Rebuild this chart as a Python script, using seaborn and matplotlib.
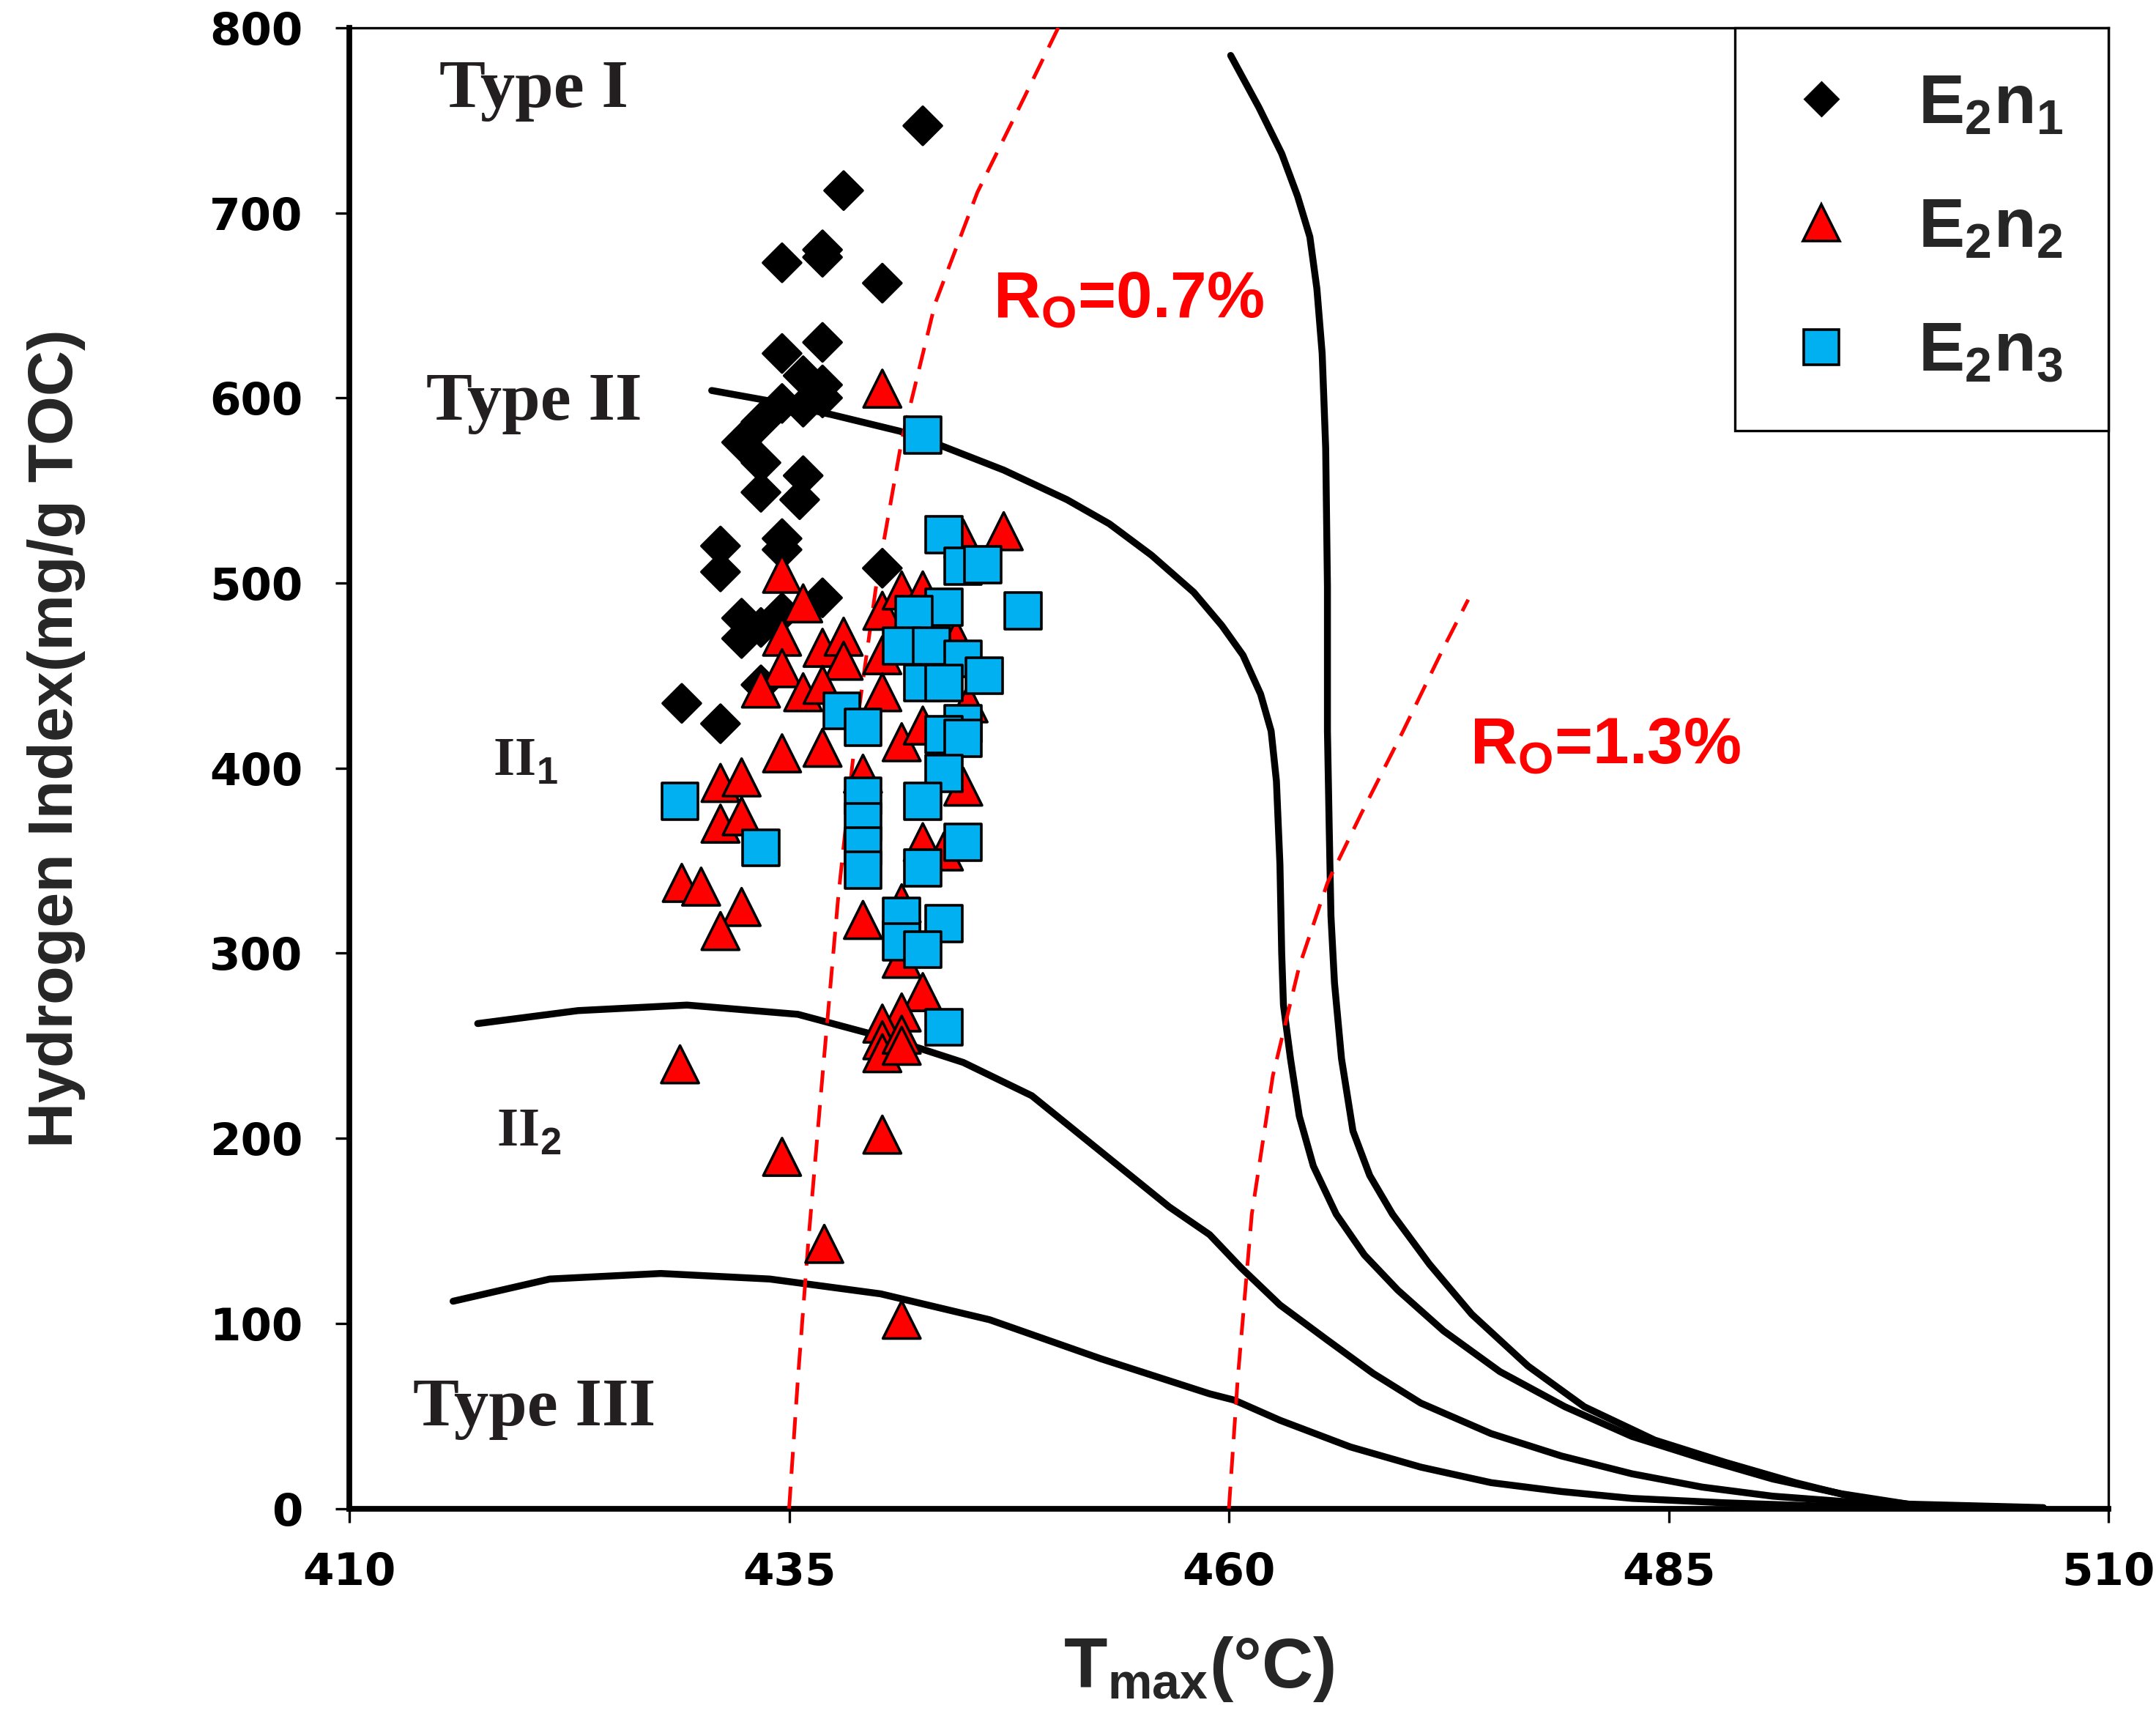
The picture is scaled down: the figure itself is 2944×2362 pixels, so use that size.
import pandas as pd
import seaborn as sns
import matplotlib.pyplot as plt
from matplotlib.lines import Line2D

sns.set_style('ticks')
plt.rcParams['font.family'] = ['Liberation Sans', 'DejaVu Sans']
plt.rcParams['mathtext.fontset'] = 'custom'
plt.rcParams['mathtext.rm'] = 'Liberation Sans'
plt.rcParams['mathtext.bf'] = 'Liberation Sans:bold'

# E2n1 samples (black diamonds)
n1_tmax = [442.6, 438.1, 436.9, 436.9, 434.6, 440.3, 436.9, 434.6, 435.8, 436.9,
           434.6, 435.8, 436.9, 433.4, 432.3, 433.4, 435.8, 433.4, 435.6, 434.6,
           434.6, 431.1, 431.1, 436.9, 432.3, 432.3, 433.4, 434.6, 440.3, 428.9,
           431.1, 433.4]
n1_hi = [747, 712, 680, 676, 673, 662, 630, 624, 612, 607,
         597, 595, 600, 587, 576, 565, 558, 549, 545, 524,
         518, 520, 506, 492, 481, 470, 476, 484, 508, 435,
         424, 445]

# E2n2 samples (red triangles)
n2_tmax = [440.3, 434.6, 435.8, 434.6, 436.9, 438.1, 438.1, 434.6, 433.4, 435.8,
           436.9, 434.6, 436.9, 431.1, 432.3, 431.1, 432.3, 439.2, 440.3, 441.4,
           442.6, 440.3, 440.3, 441.4, 442.6, 447.2, 444.9, 444.9, 442.6, 443.8,
           444.5, 445.2, 428.9, 430.0, 432.3, 431.1, 439.2, 441.4, 441.4, 442.6,
           441.4, 440.3, 440.3, 440.3, 441.4, 441.4, 428.8, 434.6, 440.3, 437.0,
           441.4]
n2_hi = [605, 505, 489, 471, 465, 471, 458, 454, 443, 441,
         445, 408, 411, 392, 395, 370, 374, 397, 485, 496,
         496, 461, 441, 414, 423, 528, 524, 390, 360, 355,
         470, 435, 338, 336, 325, 312, 318, 327, 297, 279,
         268, 262, 253, 246, 256, 250, 240, 190, 202, 143,
         102]

# E2n3 samples (blue squares)
n3_tmax = [442.6, 443.8, 444.9, 446.0, 443.8, 442.1, 448.3, 441.4, 443.1, 444.9,
           446.1, 442.6, 443.8, 438.0, 439.2, 444.9, 443.8, 444.9, 443.8, 428.8,
           439.2, 442.6, 433.4, 439.2, 439.2, 444.9, 439.2, 442.6, 441.4, 443.8,
           441.4, 442.6, 443.8]
n3_hi = [580, 526, 509, 510, 487, 483, 485, 466, 466, 459,
         450, 446, 446, 431, 422, 424, 418, 416, 397, 382,
         385, 382, 357, 371, 358, 360, 345, 346, 320, 316,
         306, 302, 260]

# kerogen type boundary curves
type1_x = [460.1, 461.7, 463.0, 463.9, 464.6, 465.0, 465.3, 465.5, 465.6, 465.6,
           465.7, 465.8, 466.0, 466.4, 467.05, 468.0, 469.3, 471.4, 473.8, 477.0,
           480.2, 484.2, 488.2, 492.2, 495.8, 498.6, 506.3]
type1_y = [785, 757, 732, 709, 687, 659, 624, 573, 498, 420,
           368, 320, 284, 243, 204, 180, 159, 132, 105, 77,
           55, 37, 25, 14, 5.5, 2.4, 0.5]
type2_x = [430.6, 434.1, 437.4, 441.3, 443.7, 447.2, 450.8, 453.2, 455.6, 458.0,
           459.6, 460.8, 461.8, 462.4, 462.7, 462.9, 463.0, 463.1, 463.5, 464.0,
           464.8, 466.1, 467.7, 469.6, 472.2, 475.4, 479.1, 482.9, 486.9, 490.9,
           494.8, 498.6]
type2_y = [604, 598, 591, 582, 574, 561, 545, 532, 515, 495,
           477, 461, 440, 420, 393, 348, 300, 272, 243, 212,
           185, 159, 137, 118, 96, 74, 55, 39, 27, 16,
           8, 2.4]
type23_x = [417.3, 423.0, 429.2, 435.5, 441.0, 444.9, 448.8, 452.7, 456.6, 458.9,
            460.7, 462.9, 465.6, 468.2, 470.9, 474.9, 478.9, 482.9, 486.9, 490.9,
            494.8, 498.6]
type23_y = [262, 269, 272, 267, 253, 241, 223, 193, 163, 148,
            130, 110, 91, 73, 57, 40.5, 28.4, 18.8, 11.6, 6.7,
            3.9, 1.9]
type3_x = [415.9, 421.4, 427.7, 433.9, 440.2, 446.4, 452.7, 458.9, 460.3, 462.9,
           466.9, 470.9, 474.9, 478.9, 482.9, 488.2, 493.5, 498.6]
type3_y = [112, 124, 127, 124, 116, 102, 81, 62, 58.6, 47.7,
           33.3, 22.4, 14, 9.2, 5.5, 3.1, 1.4, 0.7]

# vitrinite reflectance iso-lines
ro07_x = [435.0, 435.5, 436.1, 436.9, 437.8, 438.8, 440.0, 441.4, 443.3, 445.7, 448.4, 450.3]
ro07_y = [0, 70, 145, 234, 331, 420, 502, 577, 651, 711, 763, 800]
ro13_x = [460.0, 460.5, 461.3, 462.5, 464.0, 465.6, 467.5, 469.9, 472.2, 473.6]
ro13_y = [0, 70, 159, 234, 293, 338, 375, 420, 465, 491]

df = pd.DataFrame({
    'Tmax': n1_tmax + n2_tmax + n3_tmax,
    'HI': n1_hi + n2_hi + n3_hi,
    'unit': ['E2n1'] * len(n1_tmax) + ['E2n2'] * len(n2_tmax) + ['E2n3'] * len(n3_tmax),
})

colors = {'E2n1': 'black', 'E2n2': '#ff0000', 'E2n3': '#00b0f0'}
markers = {'E2n1': 'D', 'E2n2': '^', 'E2n3': 's'}
sizes = {'E2n1': 175, 'E2n2': 340, 'E2n3': 320}

fig = plt.figure(figsize=(14.72, 11.81), dpi=200)
ax = fig.add_axes([0.162, 0.128, 0.816, 0.856])

for xs, ys in [(type1_x, type1_y), (type2_x, type2_y), (type23_x, type23_y), (type3_x, type3_y)]:
    sns.lineplot(x=xs, y=ys, sort=False, estimator=None, color='black', lw=3.4, ax=ax, zorder=2)
for xs, ys in [(ro07_x, ro07_y), (ro13_x, ro13_y)]:
    sns.lineplot(x=xs, y=ys, sort=False, estimator=None, color='#ff0000', lw=1.8,
                 ax=ax, zorder=3).lines[-1].set_dashes([6, 3.5])

sns.scatterplot(data=df, x='Tmax', y='HI', hue='unit', style='unit', size='unit',
                palette=colors, markers=markers, sizes=sizes, edgecolor='black',
                linewidth=1.3, legend=False, ax=ax, zorder=4)

ax.set_xlim(410, 510)
ax.set_ylim(0, 800)
ax.set_xticks([410, 435, 460, 485, 510])
ax.set_yticks(range(0, 801, 100))
for lab in ax.get_xticklabels() + ax.get_yticklabels():
    lab.set_fontfamily('DejaVu Sans')
    lab.set_fontweight('bold')
    lab.set_fontsize(22)
ax.tick_params(direction='out', length=7, width=1.2, colors='black')
ax.tick_params(axis='y', pad=16)
ax.tick_params(axis='x', pad=14)
for side in ['left', 'bottom']:
    ax.spines[side].set_linewidth(2.8)
for side in ['top', 'right']:
    ax.spines[side].set_linewidth(1.2)
for sp in ax.spines.values():
    sp.set_color('black')

ax.set_xlabel(r'$\mathbf{T}_{\mathbf{max}}$(°C)', fontsize=35, fontweight='bold')
ax.xaxis.set_label_coords(0.483, -0.085)
ax.set_ylabel('Hydrogen Index(mg/g TOC)', fontsize=31, fontweight='bold')
ax.yaxis.set_label_coords(-0.150, 0.52)

serif = dict(family='Liberation Serif', fontweight='bold', color='#231f20', ha='center', va='center')
ax.text(420.5, 766, 'Type I', fontsize=34, **serif)
ax.text(420.5, 597, 'Type II', fontsize=34, **serif)
ax.text(420.0, 403, r'II$_{\mathbf{1}}$', fontsize=27, **serif)
ax.text(420.2, 203, r'II$_{\mathbf{2}}$', fontsize=27, **serif)
ax.text(420.5, 54, 'Type III', fontsize=34, **serif)
ax.text(454.3, 653, r'R$_{\mathbf{O}}$=0.7%', fontsize=32, fontweight='bold', color='#ff0000',
        ha='center', va='center')
ax.text(481.4, 412, r'R$_{\mathbf{O}}$=1.3%', fontsize=32, fontweight='bold', color='#ff0000',
        ha='center', va='center')

handles = [
    Line2D([], [], ls='none', marker='D', markersize=11.5, color='black'),
    Line2D([], [], ls='none', marker='^', markersize=18, markerfacecolor='#ff0000',
           markeredgecolor='black', markeredgewidth=1.3),
    Line2D([], [], ls='none', marker='s', markersize=17, markerfacecolor='#00b0f0',
           markeredgecolor='black', markeredgewidth=1.3),
]
labels = [r'$\mathbf{E_2n_1}$', r'$\mathbf{E_2n_2}$', r'$\mathbf{E_2n_3}$']
leg = ax.legend(handles, labels, loc='upper right', bbox_to_anchor=(1.0, 1.0), fontsize=34,
                frameon=True, fancybox=False, framealpha=1, edgecolor='black',
                handlelength=1.2, labelspacing=0.85, handletextpad=0.8, borderpad=0.65,
                borderaxespad=0)
leg.get_frame().set_linewidth(1.2)

fig.savefig('out.png', dpi=200)
